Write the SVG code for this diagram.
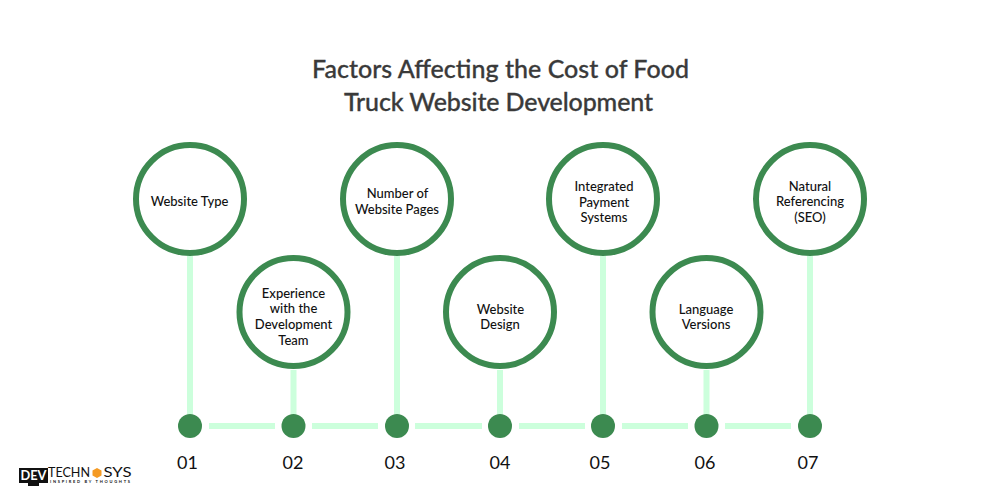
<svg xmlns="http://www.w3.org/2000/svg" width="1000" height="500" viewBox="0 0 1000 500">
<style>
text{font-family:"Lato","Liberation Sans",sans-serif;text-anchor:middle;fill:#111}
.t{font-size:25px;font-weight:500;fill:#3a3a3a;stroke:#3a3a3a;stroke-width:.3px}
.l{font-size:13px;font-weight:500}
.n{font-size:18px}
.c{fill:#fff;stroke:#3c8a50;stroke-width:6}
.d{fill:#3c8a50}
.k{stroke:#ccffdc;stroke-width:6;fill:none}
</style>
<rect width="1000" height="500" fill="#fff"/>
<g id="title"><text class="t" x="500.500" y="78" textLength="377">Factors Affecting the Cost of Food</text><text class="t" x="498.500" y="111" textLength="309">Truck Website Development</text></g>
<g id="connectors">
<path class="k" d="M190 256V414M293.500 370V414M397 256V414M500 370V414M603 256V414M706.500 370V414M810 256V414"/>
<path class="k" d="M209 426H275M312 426H378M415 426H482M519 426H585M622 426H688M725 426H791"/>
</g>
<g id="node-1"><circle class="c" cx="190" cy="199" r="54"/><text class="l" x="189.500" y="206">Website Type</text><circle class="d" cx="190" cy="426" r="12"/><text class="n" x="187.500" y="469">01</text></g>
<g id="node-2"><circle class="c" cx="293.500" cy="312" r="54"/><text class="l" x="293.500" y="298">Experience</text><text class="l" x="293.500" y="313">with the</text><text class="l" x="293.500" y="329">Development</text><text class="l" x="293.500" y="345">Team</text><circle class="d" cx="293.500" cy="426" r="12"/><text class="n" x="293" y="469">02</text></g>
<g id="node-3"><circle class="c" cx="397" cy="199" r="54"/><text class="l" x="397.500" y="198">Number of</text><text class="l" x="397" y="214">Website Pages</text><circle class="d" cx="397" cy="426" r="12"/><text class="n" x="395" y="469">03</text></g>
<g id="node-4"><circle class="c" cx="500" cy="312" r="54"/><text class="l" x="500.500" y="314">Website</text><text class="l" x="500" y="329">Design</text><circle class="d" cx="500" cy="426" r="12"/><text class="n" x="500" y="469">04</text></g>
<g id="node-5"><circle class="c" cx="603" cy="199" r="54"/><text class="l" x="604" y="191">Integrated</text><text class="l" x="604" y="207">Payment</text><text class="l" x="604" y="222">Systems</text><circle class="d" cx="603" cy="426" r="12"/><text class="n" x="600" y="469">05</text></g>
<g id="node-6"><circle class="c" cx="706.500" cy="312" r="54"/><text class="l" x="706" y="314">Language</text><text class="l" x="706" y="329">Versions</text><circle class="d" cx="706.500" cy="426" r="12"/><text class="n" x="705" y="469">06</text></g>
<g id="node-7"><circle class="c" cx="810" cy="199" r="54"/><text class="l" x="810" y="191">Natural</text><text class="l" x="810" y="206">Referencing</text><text class="l" x="810" y="222">(SEO)</text><circle class="d" cx="810" cy="426" r="12"/><text class="n" x="808" y="469">07</text></g>
<g id="logo">
<rect x="19" y="468" width="29" height="15" fill="#111"/><rect x="28" y="483" width="11" height="3" fill="#111"/>
<text x="33.500" y="480" textLength="26" lengthAdjust="spacingAndGlyphs" style="font-size:13px;font-weight:700;fill:#fff">DEV</text>
<text x="69" y="477" textLength="42" lengthAdjust="spacingAndGlyphs" style="font-size:13px;fill:#111">TECHN</text>
<polygon points="97,468 101.500,470.500 101.500,475.500 97,478 92.500,475.500 92.500,470.500" fill="#f59a23"/>
<text x="117.500" y="477" textLength="28" lengthAdjust="spacingAndGlyphs" style="font-size:13px;fill:#111">SYS</text>
<text x="90" y="482.500" textLength="80" lengthAdjust="spacing" style="font-size:4px;font-weight:700;fill:#111">INSPIRED BY THOUGHTS</text>
</g>
</svg>
